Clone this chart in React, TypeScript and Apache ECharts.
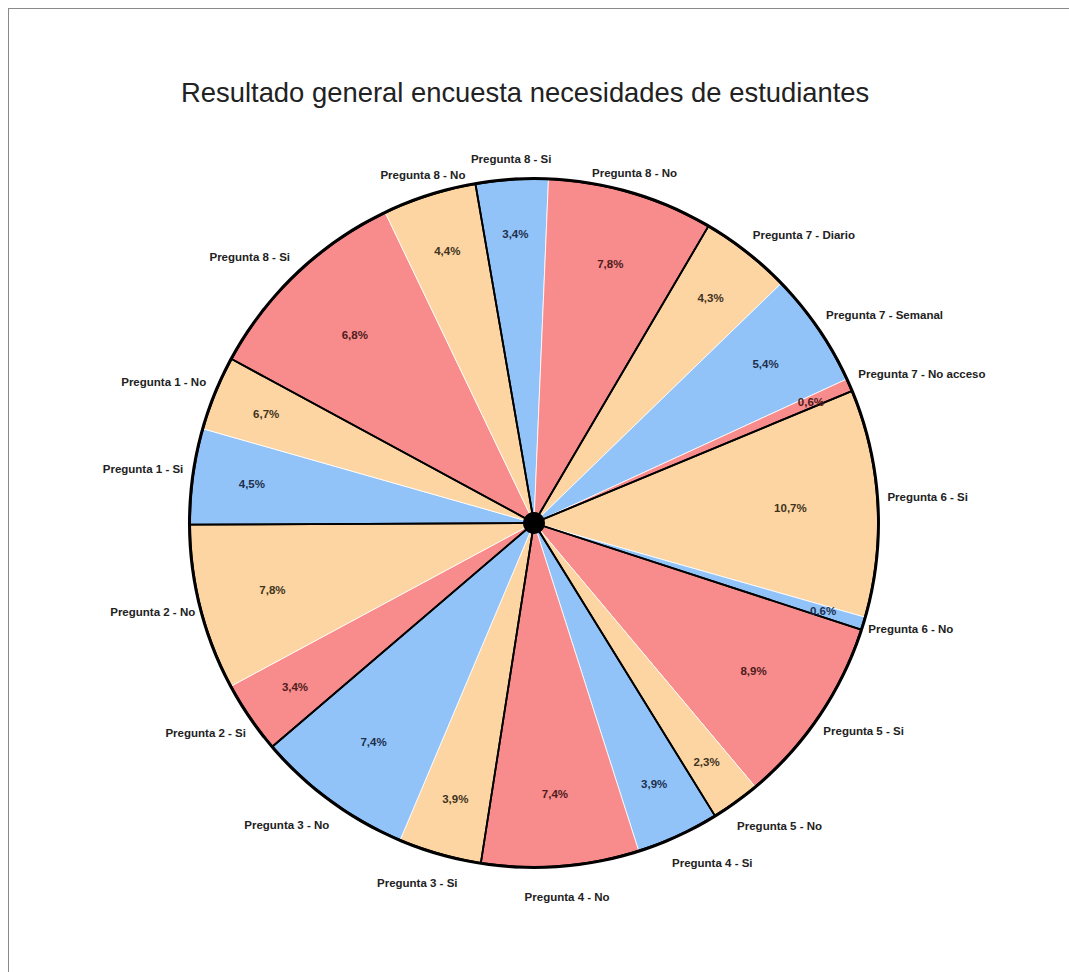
import React, { useEffect, useRef } from "react";
import * as echarts from "echarts";

const titleText = "Resultado general encuesta necesidades de estudiantes";

const names = [
  "Pregunta 8 - Si", "Pregunta 8 - No", "Pregunta 7 - Diario", "Pregunta 7 - Semanal",
  "Pregunta 7 - No acceso", "Pregunta 6 - Si", "Pregunta 6 - No", "Pregunta 5 - Si",
  "Pregunta 5 - No", "Pregunta 4 - Si", "Pregunta 4 - No", "Pregunta 3 - Si",
  "Pregunta 3 - No", "Pregunta 2 - Si", "Pregunta 2 - No", "Pregunta 1 - Si",
  "Pregunta 1 - No", "Pregunta 8 - Si", "Pregunta 8 - No",
];

// slice sizes as drawn in the picture
const values = [3.4, 7.8, 4.3, 5.4, 0.6, 10.7, 0.6, 8.9, 2.3, 3.9, 7.4, 3.9, 7.4, 3.4, 7.8, 4.5, 3.5, 10.0, 4.4];

// percentage texts printed on the slices
const percentLabels = [
  "3,4%", "7,8%", "4,3%", "5,4%", "0,6%", "10,7%", "0,6%", "8,9%", "2,3%", "3,9%",
  "7,4%", "3,9%", "7,4%", "3,4%", "7,8%", "4,5%", "6,7%", "6,8%", "4,4%",
];

const kinds = ["b", "r", "o", "b", "r", "o", "b", "r", "o", "b", "r", "o", "b", "r", "o", "b", "o", "r", "o"];

// question group of each slice (black separators between groups)
const groups = [0, 0, 1, 1, 1, 2, 2, 3, 3, 4, 4, 5, 5, 6, 6, 7, 7, 8, 8];

const fillColors: Record<string, string> = { b: "#91C3F8", r: "#F88C8C", o: "#FDD5A2" };
const textColors: Record<string, string> = { b: "#1d2f4d", r: "#4f1b1b", o: "#3f3320" };

function unitFrom(pts: number[][]) {
  const p0 = pts[0];
  const p1 = pts[1];
  let ux = p1[0] - p0[0];
  let uy = p1[1] - p0[1];
  const len = Math.hypot(ux, uy) || 1;
  ux /= len;
  uy /= len;
  return { p0, ux, uy };
}

export default function App() {
  const ref = useRef<HTMLDivElement>(null);

  useEffect(() => {
    if (!ref.current) return;
    const chart = echarts.init(ref.current, undefined, { renderer: "svg" });
    const center = [525, 514];
    const R = 344;
    const startAngle = 99.8;
    const font = "Liberation Sans, Arial, sans-serif";

    const groupSums: number[] = [];
    values.forEach((v, i) => {
      const g = groups[i];
      groupSums[g] = (groupSums[g] || 0) + v;
    });

    const hiddenLine = { show: true, length: 10, length2: 0, lineStyle: { opacity: 0, width: 0 } };

    chart.setOption({
      animation: false,
      backgroundColor: "#ffffff",
      title: {
        text: titleText,
        left: 172,
        top: 70,
        padding: 0,
        textStyle: { fontFamily: font, fontSize: 27.4, fontWeight: "normal", color: "#222222" },
      },
      series: [
        {
          type: "pie",
          center,
          radius: [0, R],
          startAngle,
          clockwise: true,
          avoidLabelOverlap: false,
          silent: true,
          itemStyle: { borderColor: "#ffffff", borderWidth: 0.8 },
          label: {
            show: true,
            position: "outside",
            formatter: "{b}",
            fontFamily: font,
            fontSize: 11.5,
            fontWeight: "bold",
            color: "#222222",
          },
          labelLine: hiddenLine,
          labelLayout: (params: any) => {
            const pts = params.labelLinePoints;
            if (!pts || pts.length < 2) return {};
            const { p0, ux, uy } = unitFrom(pts);
            const w = params.labelRect.width;
            const a = Math.abs(ux);
            const frac = uy < 0
              ? Math.min(1, Math.max(0, (a - 0.28) / 0.3))
              : Math.min(1, 2 * a) * 0.9;
            const x = p0[0] + ux * 10 + Math.sign(ux) * frac * w / 2;
            const y = p0[1] - 5 + (uy < 0 ? 16 : 36) * uy;
            return { x, y, align: "center", verticalAlign: "middle" };
          },
          data: values.map((v, i) => ({
            value: v,
            name: names[i],
            itemStyle: { color: fillColors[kinds[i]] },
          })),
        },
        {
          type: "pie",
          center,
          radius: [0, R],
          startAngle,
          clockwise: true,
          silent: true,
          label: { show: false },
          labelLine: { show: false },
          itemStyle: { color: "rgba(0,0,0,0)", borderColor: "#000000", borderWidth: 1.8 },
          data: groupSums.map((v, i) => ({ value: v, name: "g" + i })),
        },
        {
          type: "pie",
          center,
          radius: [0, R],
          startAngle,
          clockwise: true,
          silent: true,
          avoidLabelOverlap: false,
          itemStyle: { color: "rgba(0,0,0,0)", borderWidth: 0 },
          label: {
            show: true,
            position: "outside",
            formatter: (p: any) => percentLabels[p.dataIndex],
            fontFamily: font,
            fontSize: 11.5,
            fontWeight: "bold",
          },
          labelLine: hiddenLine,
          labelLayout: (params: any) => {
            const pts = params.labelLinePoints;
            if (!pts || pts.length < 2) return {};
            const { p0, ux, uy } = unitFrom(pts);
            // bigger slices carry their text a little closer to the centre
            const rad = 305 - 4.5 * values[params.dataIndex];
            const back = R - rad;
            return {
              x: p0[0] - ux * back,
              y: p0[1] - uy * back,
              align: "center",
              verticalAlign: "middle",
            };
          },
          data: values.map((v, i) => ({
            value: v,
            name: names[i],
            label: { color: textColors[kinds[i]] },
          })),
        },
        {
          type: "pie",
          center,
          radius: [R - 1, R + 2],
          silent: true,
          label: { show: false },
          labelLine: { show: false },
          itemStyle: { color: "#000000" },
          data: [{ value: 1, name: "borde" }],
        },
        {
          type: "pie",
          center,
          radius: [0, 11],
          silent: true,
          label: { show: false },
          labelLine: { show: false },
          itemStyle: { color: "#000000" },
          data: [{ value: 1, name: "centro" }],
        },
      ],
    });
    return () => chart.dispose();
  }, []);

  return (
    <div
      style={{
        position: "fixed",
        left: 8,
        top: 8,
        width: 1200,
        height: 1100,
        borderTop: "1px solid #8a8a8a",
        borderLeft: "1px solid #8a8a8a",
        background: "#fff",
      }}
    >
      <div ref={ref} style={{ width: 1060, height: 963 }} />
    </div>
  );
}
